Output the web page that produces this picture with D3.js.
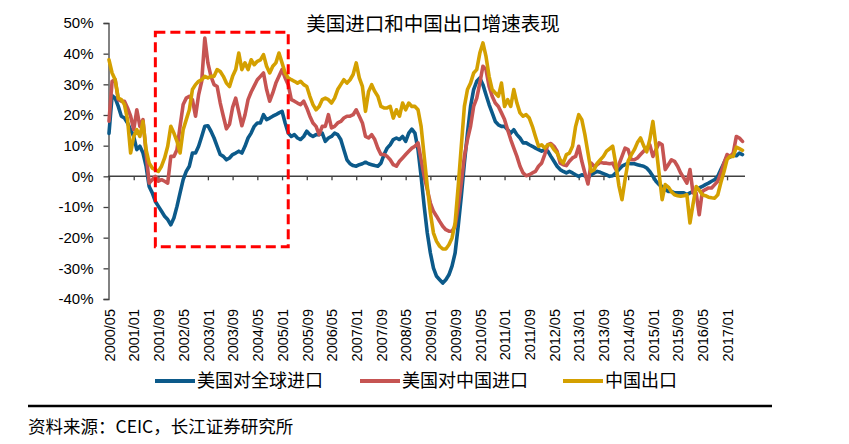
<!DOCTYPE html>
<html><head><meta charset="utf-8">
<script src="https://cdn.jsdelivr.net/npm/d3@7"></script>
<style>
html,body{margin:0;padding:0;background:#fff;}
svg{display:block;}
</style></head>
<body><svg id="c" width="849" height="444"></svg>
<script>
// ---- data ----
const startYear = 2000, startMonth = 5, nMonths = 206; // 2000/05 .. 2017/06
const seriesNames = ["美国对全球进口", "美国对中国进口", "中国出口"];
const usGlobalImports = [14, 26.3, 25.5, 22.8, 19.6, 19, 17.4, 15.2, 13, 8.7,
 9.8, 7.6, 3.3, -3.3, -5.4, -8.2, -9.8, -11.4, -13, -14.1,
 -15.8, -13.6, -9.8, -5.4, -1.1, 1.6, 3.3, 7.6, 7.6, 9.8,
 13, 16.3, 16.5, 14.7, 12.5, 9.8, 7.1, 6.5, 5.4, 6,
 7.1, 7.6, 8.2, 7.6, 9.8, 12.5, 14.1, 16.3, 17.4, 17.4,
 20.1, 18.5, 19, 19.6, 20.1, 20.7, 21.2, 17.4, 14.1, 13,
 13.6, 12.5, 12, 13, 14.7, 13.6, 13, 13.6, 13.6, 14.1,
 11.4, 12.5, 13, 14.1, 13.6, 12, 8.7, 5.4, 4.1, 3.5,
 3.3, 3.8, 4.1, 4.6, 4.1, 3.8, 3.5, 3.3, 4.3, 7.1,
 9.2, 10.3, 12, 12.5, 12, 13, 11.4, 14.1, 15.4, 14.1,
 8.7, 0, -9.8, -18.5, -25, -29.9, -32.6, -33.7, -34.8, -33.7,
 -32.1, -29.3, -25, -16.3, -6.5, 4.3, 14.1, 22.8, 28.3, 31,
 32.1, 29.9, 26.6, 23.4, 20.7, 17.9, 16.8, 16.3, 16.3, 15.2,
 14.1, 15.2, 13.6, 12.5, 10.9, 10.9, 10.3, 9.8, 9.2, 8.7,
 8.2, 8.7, 8.2, 6.5, 4.9, 3.3, 2.2, 1.6, 1.1, 1.6,
 1.1, 0.5, 0, 0.5, 0.2, -0.5, 0.5, 1.1, 1.6, 1.3,
 0.9, 0.5, 0, 0.2, 1.1, 2.2, 3.3, 3.8, 4.3, 4.1,
 4.1, 3.8, 3.5, 3.3, 2.7, 1.6, 0, -1.6, -2.7, -3.3,
 -4.3, -4.9, -4.9, -5.4, -5.4, -5.4, -5.4, -6, -5.4, -4.9,
 -4.3, -3.8, -3.3, -2.7, -2.2, -1.6, -1.1, 0, 2.2, 4.3,
 6.5, 6.3, 7.1, 6.7, 7.6, 7.1];
const usChinaImports = [18, 31, 31.5, 25, 24.5, 24.5, 22.3, 19.6, 15.2, 21.7,
 16.3, 18.5, 7.6, -2.2, -1.1, 0, -1.6, -1.1, -1.6, -2.2,
 6.5, 6.5, 8.7, 16.3, 23.4, 25.5, 26.1, 25, 19.6, 26.6,
 31, 45.1, 37, 32.6, 29.9, 29.3, 23.9, 19.6, 15.5, 17,
 22.5, 25.5, 21, 16.5, 20, 25, 27.5, 29.5, 31.5, 32.6,
 33.7, 28.3, 24.5, 27.2, 30.4, 32.6, 34.8, 32.1, 29.9, 25,
 24.5, 23.9, 23.4, 24.5, 22.3, 19.6, 17.4, 16.3, 13.6, 16.3,
 16.3, 20.1, 15.8, 16.3, 17.4, 17.9, 19, 19.6, 19.6, 20.1,
 21.7, 19.6, 17.4, 13, 12.5, 13.6, 12, 9.2, 7.1, 7.1,
 6.5, 5.4, 3.8, 3.3, 4.9, 6, 7.1, 8.2, 9.2, 9.8,
 10.9, 5.4, 0, -4.3, -8.7, -11.4, -13, -14.7, -16.3, -17.4,
 -17.9, -17.9, -16.3, -9.8, -2.2, 6.5, 12, 16.3, 22.8, 25.5,
 30.4, 35.9, 34.8, 29.3, 26.1, 23.9, 22.8, 20.7, 18.5, 15.2,
 12, 9.2, 6.5, 3.3, 1.1, 0.2, 0.5, 1.1, 1.6, 3.3,
 4.3, 7.1, 10.3, 10.7, 9.8, 8.2, 4.3, 3.8, 3.5, 4.9,
 6, 6.5, 9.8, 4.9, 1.1, -2.5, 4.3, 3.3, 3.8, 4.6,
 4.3, 4.3, 4.1, 4.3, 2.2, 3.8, 6.5, 9.2, 8.7, 5.4,
 5.4, 6, 7.1, 8.2, 9.2, 10.3, 6.5, 8.7, 10.9, 10.3,
 2.2, 3.8, 5.4, 4.9, 3.3, 1.1, -0.5, -2.2, 2.2, -5.4,
 -5.4, -12.5, -4.9, -4.3, -3.8, -3.8, -2.7, -1.6, 1.1, 4.3,
 7.1, 6.5, 7.6, 13, 12.5, 11.4];
const chinaExports = [38, 33.7, 31.5, 25.5, 25, 23.4, 18.5, 7.6, 13, 15.2,
 13, 17.9, 8.7, 4.3, 2.7, 2.2, 1.6, 3.3, 6, 9.8,
 16.3, 14.1, 11.4, 7.6, 15.2, 18.5, 21.7, 28.3, 29.9, 31,
 31.5, 32.6, 32.1, 32.6, 32.6, 34.8, 34.2, 32.6, 30.4, 29.3,
 32.6, 34.8, 40.2, 34.8, 37, 34.8, 38, 36.4, 37.5, 38,
 39.7, 35.9, 33.7, 35.9, 37, 40.2, 37, 33.7, 32.1, 31.5,
 31, 30.4, 31, 29.9, 29.3, 26.1, 23.4, 21.7, 22.8, 25,
 25.5, 25, 23.9, 25.5, 28.3, 29.9, 31.5, 30.4, 31.5, 33.2,
 37, 32.1, 29.3, 21.2, 27.7, 29.9, 27.7, 26.1, 22.8, 22.3,
 22.3, 22.8, 19, 21.7, 19.6, 23.9, 21.7, 23.9, 22.8, 22.8,
 21.7, 16.3, 6.5, -3.3, -12, -18.5, -21.2, -22.8, -23.7, -23.7,
 -22.3, -20.1, -15.2, -3.3, 9.8, 22.8, 28.3, 30.4, 33.7, 34.8,
 40.2, 43.5, 39.1, 32.6, 28.3, 27.2, 26.1, 30.4, 22.8, 25,
 22.8, 28.3, 23.9, 20.7, 19.6, 20.1, 19, 16.3, 13, 9.8,
 10.3, 9.2, 10.3, 10.3, 8.7, 7.6, 5.4, 4.3, 7.1, 7.6,
 9.8, 16.3, 20.1, 18.5, 13.6, 7.6, 1.6, 2.2, 4.3, 5.4,
 6.5, 8.2, 9, 9.8, 4, -3, -7.6, -1, 5, 7,
 8.7, 11, 12.5, 10, 8, 12, 17.9, 10, 1, -7.6,
 -2.7, -3.5, -5, -6, -6.3, -6.5, -6.3, -6, -15.2, -9,
 -3.3, -4.5, -6, -6.3, -6.8, -7, -7.1, -6, -2, 1.5,
 5.5, 6.5, 6.5, 9.5, 9, 8.5];
const xTickLabels = ["2000/05","2001/01","2001/09","2002/05","2003/01","2003/09","2004/05","2005/01",
 "2005/09","2006/05","2007/01","2007/09","2008/05","2009/01","2009/09","2010/05","2011/01","2011/09",
 "2012/05","2013/01","2013/09","2014/05","2015/01","2015/09","2016/05","2017/01"];
const yTicks = [-40, -30, -20, -10, 0, 10, 20, 30, 40, 50];
const highlightStart = "2001/08", highlightEnd = "2005/03"; // annotated period
const highlightRange = [47, -23];
const colors = ["#0c5a8a", "#c65452", "#d4a000"];

// ---- build categories ----
const months = d3.range(nMonths).map(i => {
  const m = startMonth - 1 + i;
  const yy = startYear + Math.floor(m / 12), mm = (m % 12) + 1;
  return yy + "/" + String(mm).padStart(2, "0");
});
const series = [usGlobalImports, usChinaImports, chinaExports];

const svg = d3.select("#c");
const x = d3.scalePoint().domain(months).range([109, 742.5]);
const y = d3.scaleLinear().domain([-40, 50]).range([299, 23]);
const numFont = "'Liberation Sans', Arial, sans-serif";
const cjkFont = "'Noto Sans CJK SC', 'Liberation Sans', sans-serif";

// title
svg.append("text").attr("x", 433).attr("y", 31).attr("text-anchor", "middle")
  .attr("font-family", cjkFont).attr("font-size", 19.5).attr("fill", "#000")
  .text("美国进口和中国出口增速表现");

// y axis
const yAxis = svg.append("g").attr("transform", "translate(108.5,0)")
  .call(d3.axisLeft(y).tickValues(yTicks).tickFormat(d => d + "%").tickSize(5).tickPadding(10));
yAxis.select(".domain").attr("stroke", "#404040").attr("stroke-width", 1.3);
yAxis.selectAll(".tick line").attr("stroke", "#404040").attr("stroke-width", 1.3);
yAxis.selectAll("text").attr("font-family", numFont).attr("font-size", 15).attr("fill", "#000");

// x zero line with ticks
const xAxis0 = svg.append("g").attr("transform", `translate(0,${y(0)})`)
  .call(d3.axisBottom(x).tickValues(xTickLabels).tickFormat("").tickSize(4).tickSizeOuter(0));
xAxis0.select(".domain").attr("stroke", "#404040").attr("stroke-width", 1.5)
  .attr("d", `M108,0H745`);
xAxis0.selectAll(".tick line").attr("stroke", "#404040").attr("stroke-width", 1.3);

// x labels at bottom
const xAxisLab = svg.append("g").attr("transform", "translate(0,299)")
  .call(d3.axisBottom(x).tickValues(xTickLabels).tickSize(0).tickPadding(0));
xAxisLab.select(".domain").remove();
xAxisLab.selectAll("text")
  .attr("font-family", numFont).attr("font-size", 14.5).attr("fill", "#000")
  .attr("text-anchor", "end").attr("transform", "rotate(-90)")
  .attr("x", -10).attr("y", 0).attr("dy", "0.36em");

// lines
const line = d3.line().x((d, i) => x(months[i])).y(d => y(d));
series.forEach((s, k) => {
  svg.append("path").datum(s).attr("d", line).attr("fill", "none")
    .attr("stroke", colors[k]).attr("stroke-width", 3.6)
    .attr("stroke-linejoin", "round").attr("stroke-linecap", "round");
});

// highlight dashed rectangle
const rx0 = x(highlightStart), rx1 = x(highlightEnd);
svg.append("rect").attr("x", rx0).attr("y", y(highlightRange[0]))
  .attr("width", rx1 - rx0).attr("height", y(highlightRange[1]) - y(highlightRange[0]))
  .attr("fill", "none").attr("stroke", "#ff0000").attr("stroke-width", 3)
  .attr("stroke-dasharray", "10,5");

// legend
const legendX = [155, 360, 563];
seriesNames.forEach((n, k) => {
  const g = svg.append("g").attr("transform", `translate(${legendX[k]},381)`);
  g.append("line").attr("x1", 0).attr("x2", 40).attr("y1", 0).attr("y2", 0)
    .attr("stroke", colors[k]).attr("stroke-width", 4);
  g.append("text").attr("x", 42).attr("y", 0).attr("dy", "0.36em")
    .attr("font-family", cjkFont).attr("font-size", 18).attr("fill", "#000").text(n);
});

// rule & source
svg.append("line").attr("x1", 28).attr("x2", 772).attr("y1", 406).attr("y2", 406)
  .attr("stroke", "#000").attr("stroke-width", 2.5);
svg.append("text").attr("x", 28).attr("y", 433)
  .attr("font-family", cjkFont).attr("font-size", 17.5).attr("fill", "#000")
  .text("资料来源：CEIC，长江证券研究所");
</script></body></html>
